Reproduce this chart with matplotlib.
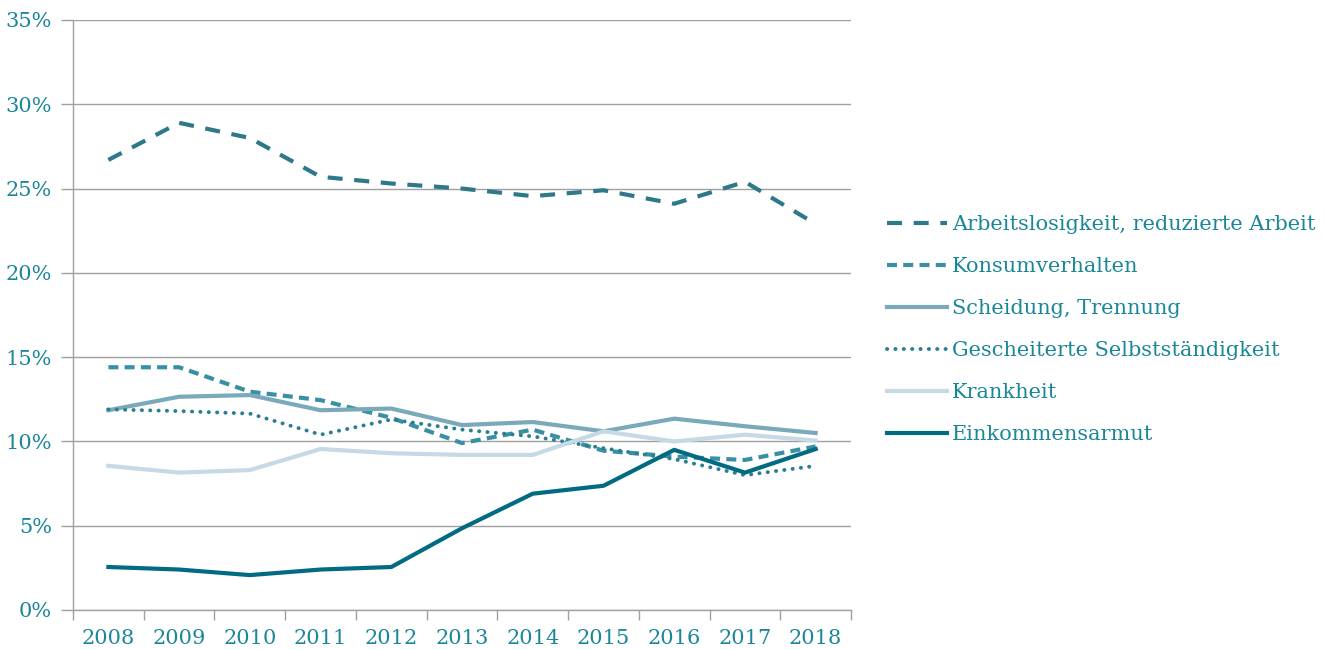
import matplotlib
matplotlib.use("Agg")
import matplotlib.pyplot as plt
import numpy as np

years = ["2008", "2009", "2010", "2011", "2012", "2013", "2014", "2015", "2016", "2017", "2018"]

arbeitslosigkeit = [26.7, 28.9, 28.0, 25.7, 25.3, 25.0, 24.55, 24.9, 24.1, 25.4, 22.9]
konsumverhalten = [14.4, 14.4, 12.95, 12.45, 11.4, 9.9, 10.7, 9.45, 9.1, 8.9, 9.7]
scheidung = [11.85, 12.65, 12.75, 11.85, 11.95, 10.97, 11.15, 10.6, 11.35, 10.9, 10.5]
selbststaendigkeit = [11.9, 11.8, 11.65, 10.4, 11.3, 10.7, 10.3, 9.6, 8.95, 8.0, 8.55]
krankheit = [8.55, 8.15, 8.3, 9.55, 9.3, 9.2, 9.2, 10.6, 10.0, 10.4, 10.05]
einkommensarmut = [2.55, 2.4, 2.07, 2.4, 2.55, 4.85, 6.9, 7.37, 9.5, 8.15, 9.55]

text_color = "#1a8799"
grid_color = "#a0a0a0"

plt.rcParams["font.family"] = ["DejaVu Serif"]

fig = plt.figure(figsize=(13.25, 6.49), dpi=100)
ax = fig.add_axes([0.0551, 0.0601, 0.5872, 0.9091])

x = np.arange(len(years))
lw = 3.0

ax.plot(x, arbeitslosigkeit, color="#2d7889", lw=lw, dashes=(3.6, 2.8),
        label="Arbeitslosigkeit, reduzierte Arbeit")
ax.plot(x, konsumverhalten, color="#3990a4", lw=lw, dashes=(2.4, 1.5),
        label="Konsumverhalten")
ax.plot(x, scheidung, color="#79a9bb", lw=lw, label="Scheidung, Trennung")
ax.plot(x, selbststaendigkeit, color="#2a7e92", lw=2.8, linestyle=(0, (0.05, 2.1)),
        dash_capstyle="round", label="Gescheiterte Selbstständigkeit")
ax.plot(x, krankheit, color="#c6d9e4", lw=lw, label="Krankheit")
ax.plot(x, einkommensarmut, color="#006b81", lw=lw, label="Einkommensarmut")

ax.set_xlim(-0.5, len(years) - 0.5)
ax.set_ylim(0, 35)
ax.set_yticks(np.arange(0, 36, 5))
ax.set_yticklabels([f"{v}%" for v in range(0, 36, 5)])
ax.yaxis.grid(True, color=grid_color, lw=1.0)
ax.set_axisbelow(True)

ax.set_xticks(x)
ax.set_xticklabels(years)
ax.set_xticks(np.arange(-0.5, len(years), 1), minor=True)
ax.tick_params(axis="x", which="major", length=0, pad=14, labelsize=15, labelcolor=text_color)
ax.tick_params(axis="x", which="minor", length=7, color=grid_color, width=1.0)
ax.tick_params(axis="y", length=9, color=grid_color, width=1.0, pad=6,
               labelsize=15, labelcolor=text_color)

for side in ["top", "right"]:
    ax.spines[side].set_visible(False)
for side in ["left", "bottom"]:
    ax.spines[side].set_color(grid_color)
    ax.spines[side].set_linewidth(1.0)

leg = ax.legend(loc="center left", bbox_to_anchor=(1.035, 0.475), frameon=False,
                fontsize=15, handlelength=2.9, handletextpad=0.25, labelspacing=1.1,
                borderaxespad=0)
for t in leg.get_texts():
    t.set_color(text_color)

fig.savefig("out.png", dpi=100)
